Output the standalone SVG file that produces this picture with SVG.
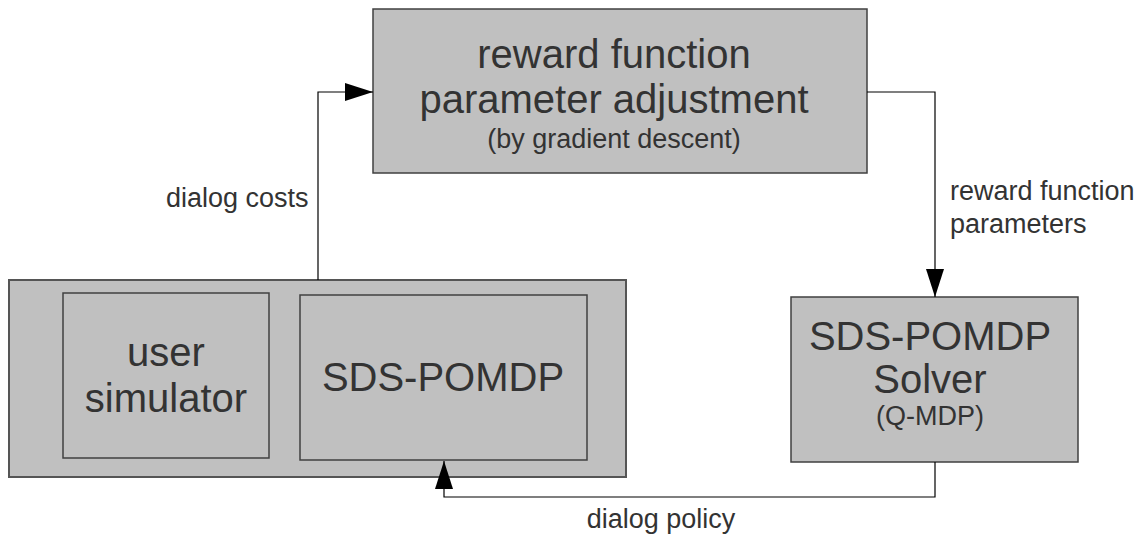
<svg xmlns="http://www.w3.org/2000/svg" width="1144" height="536" viewBox="0 0 1144 536">
<defs>
<style>
.box{fill:#c0c0c0;stroke:#404040;stroke-width:1.5}
.outer{fill:#c0c0c0;stroke:#555;stroke-width:2}
.big{font-family:"Liberation Sans",Arial,sans-serif;font-size:40px;fill:#333;text-anchor:middle}
.small{font-family:"Liberation Sans",Arial,sans-serif;font-size:27px;fill:#333}
.line{fill:none;stroke:#000;stroke-width:1.2}
</style>
<marker id="arr" viewBox="0 0 28 18" refX="28" refY="9" markerWidth="28" markerHeight="18" markerUnits="userSpaceOnUse" orient="auto">
<path d="M0,0 L28,9 L0,18 Z" fill="#000"/>
</marker>
</defs>
<rect width="1144" height="536" fill="#fff"/>
<g id="adjust">
<rect class="box" x="373" y="9" width="494" height="164"/>
<text class="big" x="614" y="68">reward function</text>
<text class="big" x="614" y="113">parameter adjustment</text>
<text class="small" x="614" y="148" text-anchor="middle">(by gradient descent)</text>
</g>
<g id="environment">
<rect class="outer" x="9" y="280" width="617" height="197"/>
</g>
<g id="usersim">
<rect class="box" x="63" y="293" width="206" height="165"/>
<text class="big" x="166" y="366">user</text>
<text class="big" x="166" y="412">simulator</text>
</g>
<g id="sdspomdp">
<rect class="box" x="300" y="295" width="287" height="165"/>
<text class="big" x="443" y="391">SDS-POMDP</text>
</g>
<g id="solver">
<rect class="box" x="791" y="297" width="287" height="165"/>
<text class="big" x="930" y="350">SDS-POMDP</text>
<text class="big" x="930" y="393">Solver</text>
<text class="small" x="930" y="425" text-anchor="middle">(Q-MDP)</text>
</g>
<g id="connectors">
<polyline class="line" points="318,280 318,92 373,92" marker-end="url(#arr)"/>
<polyline class="line" points="867,92 935,92 935,297" marker-end="url(#arr)"/>
<polyline class="line" points="935,462 935,497 444,497 444,461" marker-end="url(#arr)"/>
<text class="small" x="166" y="207">dialog costs</text>
<text class="small" x="950" y="200">reward function</text>
<text class="small" x="950" y="233">parameters</text>
<text class="small" x="661" y="528" text-anchor="middle">dialog policy</text>
</g>
</svg>
